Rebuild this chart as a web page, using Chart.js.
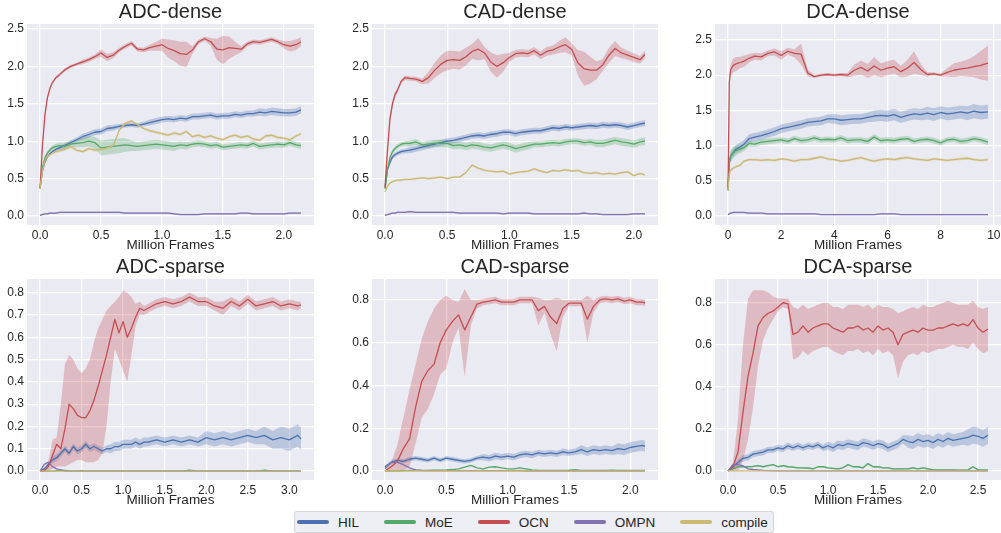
<!DOCTYPE html>
<html>
<head>
<meta charset="utf-8">
<script src="https://cdn.jsdelivr.net/npm/chart.js@4.4.1/dist/chart.umd.min.js"></script>
<style>
  body { margin: 0; background: #fff; width: 1001px; height: 533px; position: relative; overflow: hidden; }
  canvas { position: absolute; }
  #legend { position: absolute; left: 294px; top: 511px; width: 480px; height: 22px; box-sizing: border-box;
    border: 1px solid #d6d6d6; border-radius: 3px; background: #eeeef5; display: flex; align-items: center;
    padding-left: 2px; font: 13.5px "Liberation Sans", Arial, sans-serif; color: #262626; }
  #legend .item { display: flex; align-items: center; margin-right: 25px; }
  #legend .swatch { width: 32px; height: 4px; border-radius: 2px; margin-right: 9px; }
</style>
</head>
<body>
<canvas id="c0" width="330" height="255" style="left:0;top:0"></canvas>
<canvas id="c1" width="330" height="255" style="left:340px;top:0"></canvas>
<canvas id="c2" width="321" height="255" style="left:680px;top:0"></canvas>
<canvas id="c3" width="330" height="255" style="left:0;top:255px"></canvas>
<canvas id="c4" width="330" height="255" style="left:340px;top:255px"></canvas>
<canvas id="c5" width="321" height="255" style="left:680px;top:255px"></canvas>
<div id="legend"></div>
<script>
// métodos y colores
var methods = ['HIL', 'MoE', 'OCN', 'OMPN', 'compile'];
var colors = ['#4C72B0', '#55A868', '#C44E52', '#8172B2', '#CCB974'];

// ticks
var denseYTicks = [0, 0.5, 1, 1.5, 2, 2.5];
var adcSparseYTicks = [0, 0.1, 0.2, 0.3, 0.4, 0.5, 0.6, 0.7, 0.8];
var sparseYTicks = [0, 0.2, 0.4, 0.6, 0.8];
var xTicks2 = [0, 0.5, 1, 1.5, 2];
var xTicksDca = [0, 2, 4, 6, 8, 10];
var xTicks3 = [0, 0.5, 1, 1.5, 2, 2.5, 3];
var xTicks25 = [0, 0.5, 1, 1.5, 2, 2.5];

// ---------- ADC-dense ----------
var adcDenseFrames = [0, 0.02, 0.04, 0.06, 0.08, 0.1, 0.13, 0.16, 0.2, 0.25, 0.3, 0.35, 0.4, 0.45, 0.5, 0.55, 0.6, 0.65, 0.7, 0.75, 0.8, 0.85, 0.9, 0.95, 1, 1.05, 1.1, 1.15, 1.2, 1.25, 1.3, 1.35, 1.4, 1.45, 1.5, 1.55, 1.6, 1.65, 1.7, 1.75, 1.8, 1.85, 1.9, 1.95, 2, 2.05, 2.1, 2.14];
var adcDenseHIL = [0.37, 0.60, 0.72, 0.79, 0.83, 0.86, 0.89, 0.91, 0.94, 0.98, 1.02, 1.06, 1.09, 1.12, 1.13, 1.17, 1.18, 1.20, 1.21, 1.22, 1.21, 1.23, 1.25, 1.27, 1.29, 1.30, 1.29, 1.31, 1.30, 1.33, 1.33, 1.34, 1.35, 1.33, 1.34, 1.34, 1.36, 1.35, 1.37, 1.37, 1.39, 1.38, 1.40, 1.39, 1.38, 1.38, 1.39, 1.42];
var adcDenseHILsd = [0.01, 0.02, 0.02, 0.02, 0.02, 0.02, 0.02, 0.03, 0.03, 0.03, 0.03, 0.04, 0.04, 0.04, 0.04, 0.04, 0.04, 0.03, 0.03, 0.03, 0.03, 0.03, 0.04, 0.04, 0.04, 0.04, 0.04, 0.04, 0.04, 0.04, 0.04, 0.04, 0.04, 0.04, 0.04, 0.04, 0.04, 0.04, 0.04, 0.04, 0.05, 0.05, 0.05, 0.05, 0.05, 0.05, 0.05, 0.05];
var adcDenseMoE = [0.37, 0.65, 0.78, 0.84, 0.88, 0.91, 0.93, 0.94, 0.93, 0.96, 0.97, 0.98, 1.00, 0.98, 0.91, 0.92, 0.93, 0.94, 0.95, 0.94, 0.93, 0.94, 0.95, 0.96, 0.95, 0.94, 0.93, 0.95, 0.94, 0.96, 0.97, 0.96, 0.94, 0.95, 0.92, 0.93, 0.94, 0.95, 0.94, 0.97, 0.93, 0.94, 0.95, 0.96, 0.95, 0.98, 0.95, 0.94];
var adcDenseMoEsd = [0.01, 0.02, 0.03, 0.03, 0.03, 0.03, 0.04, 0.04, 0.05, 0.05, 0.05, 0.06, 0.07, 0.08, 0.10, 0.10, 0.10, 0.10, 0.09, 0.07, 0.06, 0.06, 0.06, 0.06, 0.06, 0.06, 0.06, 0.05, 0.05, 0.04, 0.04, 0.04, 0.04, 0.04, 0.04, 0.04, 0.04, 0.04, 0.04, 0.04, 0.04, 0.04, 0.04, 0.04, 0.04, 0.04, 0.04, 0.04];
var adcDenseOCN = [0.37, 0.95, 1.35, 1.58, 1.70, 1.78, 1.85, 1.89, 1.95, 2.00, 2.03, 2.06, 2.09, 2.13, 2.18, 2.12, 2.15, 2.22, 2.27, 2.31, 2.23, 2.22, 2.25, 2.27, 2.29, 2.24, 2.21, 2.17, 2.16, 2.22, 2.33, 2.37, 2.33, 2.23, 2.22, 2.25, 2.24, 2.23, 2.30, 2.33, 2.32, 2.34, 2.36, 2.33, 2.29, 2.27, 2.29, 2.33];
var adcDenseOCNsd = [0.01, 0.02, 0.03, 0.03, 0.02, 0.02, 0.02, 0.02, 0.02, 0.02, 0.02, 0.03, 0.03, 0.03, 0.05, 0.05, 0.04, 0.03, 0.03, 0.03, 0.03, 0.03, 0.04, 0.06, 0.08, 0.12, 0.14, 0.16, 0.17, 0.05, 0.03, 0.03, 0.05, 0.14, 0.19, 0.15, 0.09, 0.04, 0.03, 0.03, 0.03, 0.03, 0.03, 0.03, 0.05, 0.07, 0.07, 0.06];
var adcDenseOMPN = [0.01, 0.02, 0.03, 0.03, 0.04, 0.04, 0.04, 0.05, 0.05, 0.05, 0.05, 0.05, 0.05, 0.05, 0.05, 0.05, 0.05, 0.05, 0.04, 0.04, 0.04, 0.04, 0.04, 0.04, 0.04, 0.04, 0.03, 0.02, 0.02, 0.02, 0.02, 0.03, 0.03, 0.03, 0.03, 0.03, 0.03, 0.04, 0.04, 0.03, 0.03, 0.03, 0.03, 0.03, 0.03, 0.04, 0.04, 0.04];
var adcDenseOMPNsd = [0.01, 0.01, 0.01, 0.01, 0.01, 0.01, 0.01, 0.01, 0.01, 0.01, 0.01, 0.01, 0.01, 0.01, 0.01, 0.01, 0.01, 0.01, 0.01, 0.01, 0.01, 0.01, 0.01, 0.01, 0.01, 0.01, 0.01, 0.01, 0.01, 0.01, 0.01, 0.01, 0.01, 0.01, 0.01, 0.01, 0.01, 0.01, 0.01, 0.01, 0.01, 0.01, 0.01, 0.01, 0.01, 0.01, 0.01, 0.01];
var adcDenseCompile = [0.37, 0.60, 0.74, 0.79, 0.82, 0.84, 0.86, 0.87, 0.89, 0.93, 0.88, 0.86, 0.90, 0.88, 0.89, 0.91, 0.94, 1.15, 1.24, 1.27, 1.22, 1.17, 1.14, 1.12, 1.10, 1.08, 1.11, 1.09, 1.13, 1.06, 1.08, 1.05, 1.07, 1.04, 1.02, 1.06, 1.08, 1.05, 1.07, 1.03, 1.01, 1.07, 1.08, 1.05, 1.04, 1.02, 1.07, 1.10];
var adcDenseCompileSd = [0.01, 0.02, 0.02, 0.02, 0.02, 0.02, 0.02, 0.02, 0.02, 0.02, 0.02, 0.02, 0.02, 0.02, 0.02, 0.02, 0.02, 0.02, 0.02, 0.02, 0.02, 0.02, 0.02, 0.02, 0.02, 0.02, 0.02, 0.02, 0.02, 0.02, 0.02, 0.02, 0.02, 0.02, 0.02, 0.02, 0.02, 0.02, 0.02, 0.02, 0.02, 0.02, 0.02, 0.02, 0.02, 0.02, 0.02, 0.02];

// ---------- CAD-dense ----------
var cadDenseFrames = [0, 0.02, 0.04, 0.06, 0.08, 0.1, 0.13, 0.16, 0.2, 0.25, 0.3, 0.35, 0.4, 0.45, 0.5, 0.55, 0.6, 0.65, 0.7, 0.75, 0.8, 0.85, 0.9, 0.95, 1, 1.05, 1.1, 1.15, 1.2, 1.25, 1.3, 1.35, 1.4, 1.45, 1.5, 1.55, 1.6, 1.65, 1.7, 1.75, 1.8, 1.85, 1.9, 1.95, 2, 2.05, 2.09];
var cadDenseHIL = [0.38, 0.62, 0.72, 0.79, 0.82, 0.84, 0.86, 0.87, 0.88, 0.90, 0.92, 0.94, 0.96, 0.98, 1.00, 1.01, 1.03, 1.05, 1.07, 1.08, 1.07, 1.09, 1.10, 1.12, 1.12, 1.10, 1.12, 1.13, 1.14, 1.14, 1.16, 1.18, 1.17, 1.19, 1.18, 1.19, 1.20, 1.21, 1.20, 1.22, 1.21, 1.22, 1.21, 1.19, 1.21, 1.23, 1.24];
var cadDenseHILsd = [0.01, 0.02, 0.03, 0.03, 0.03, 0.03, 0.03, 0.03, 0.04, 0.04, 0.04, 0.04, 0.04, 0.04, 0.04, 0.04, 0.04, 0.04, 0.04, 0.04, 0.04, 0.04, 0.04, 0.04, 0.04, 0.04, 0.04, 0.04, 0.04, 0.04, 0.04, 0.04, 0.04, 0.04, 0.04, 0.04, 0.04, 0.04, 0.04, 0.04, 0.04, 0.04, 0.04, 0.04, 0.04, 0.04, 0.04];
var cadDenseMoE = [0.36, 0.62, 0.78, 0.86, 0.90, 0.93, 0.96, 0.97, 0.97, 0.99, 0.95, 0.96, 0.97, 0.97, 0.97, 0.94, 0.95, 0.93, 0.95, 0.94, 0.92, 0.91, 0.93, 0.95, 0.93, 0.90, 0.92, 0.94, 0.96, 0.96, 0.97, 0.98, 0.97, 0.99, 1.00, 1.00, 0.98, 0.99, 0.97, 0.97, 0.99, 1.01, 0.99, 0.98, 0.96, 0.99, 1.00];
var cadDenseMoEsd = [0.01, 0.02, 0.03, 0.03, 0.03, 0.03, 0.03, 0.03, 0.04, 0.04, 0.04, 0.05, 0.05, 0.05, 0.05, 0.05, 0.05, 0.05, 0.05, 0.05, 0.05, 0.05, 0.05, 0.05, 0.05, 0.05, 0.05, 0.05, 0.04, 0.04, 0.04, 0.04, 0.04, 0.04, 0.04, 0.04, 0.04, 0.04, 0.05, 0.05, 0.05, 0.05, 0.05, 0.05, 0.05, 0.05, 0.05];
var cadDenseOCN = [0.39, 0.88, 1.30, 1.50, 1.62, 1.68, 1.80, 1.85, 1.84, 1.83, 1.80, 1.85, 1.95, 2.03, 2.08, 2.09, 2.08, 2.13, 2.20, 2.23, 2.18, 2.06, 2.00, 2.05, 2.12, 2.17, 2.18, 2.17, 2.21, 2.15, 2.20, 2.22, 2.26, 2.29, 2.23, 2.05, 1.97, 1.95, 1.95, 2.02, 2.15, 2.24, 2.18, 2.15, 2.12, 2.09, 2.16];
var cadDenseOCNsd = [0.01, 0.02, 0.04, 0.05, 0.04, 0.03, 0.03, 0.03, 0.03, 0.03, 0.04, 0.08, 0.10, 0.12, 0.13, 0.12, 0.12, 0.12, 0.10, 0.15, 0.08, 0.13, 0.15, 0.12, 0.06, 0.05, 0.05, 0.05, 0.05, 0.05, 0.06, 0.06, 0.08, 0.10, 0.08, 0.17, 0.23, 0.18, 0.12, 0.08, 0.10, 0.10, 0.07, 0.06, 0.06, 0.05, 0.05];
var cadDenseOMPN = [0.01, 0.02, 0.03, 0.04, 0.04, 0.05, 0.05, 0.05, 0.06, 0.05, 0.05, 0.05, 0.05, 0.05, 0.05, 0.05, 0.04, 0.04, 0.04, 0.04, 0.04, 0.04, 0.04, 0.03, 0.04, 0.04, 0.04, 0.04, 0.03, 0.03, 0.03, 0.03, 0.03, 0.03, 0.03, 0.03, 0.04, 0.03, 0.03, 0.02, 0.02, 0.02, 0.02, 0.02, 0.03, 0.03, 0.03];
var cadDenseOMPNsd = [0.01, 0.01, 0.01, 0.01, 0.01, 0.01, 0.01, 0.01, 0.01, 0.01, 0.01, 0.01, 0.01, 0.01, 0.01, 0.01, 0.01, 0.01, 0.01, 0.01, 0.01, 0.01, 0.01, 0.01, 0.01, 0.01, 0.01, 0.01, 0.01, 0.01, 0.01, 0.01, 0.01, 0.01, 0.01, 0.01, 0.01, 0.01, 0.01, 0.01, 0.01, 0.01, 0.01, 0.01, 0.01, 0.01, 0.01];
var cadDenseCompile = [0.32, 0.40, 0.44, 0.46, 0.47, 0.48, 0.48, 0.49, 0.49, 0.50, 0.51, 0.50, 0.51, 0.52, 0.50, 0.52, 0.52, 0.58, 0.68, 0.64, 0.61, 0.60, 0.59, 0.60, 0.56, 0.58, 0.59, 0.60, 0.63, 0.60, 0.58, 0.61, 0.60, 0.62, 0.60, 0.61, 0.58, 0.57, 0.58, 0.56, 0.57, 0.56, 0.58, 0.59, 0.54, 0.57, 0.55];
var cadDenseCompileSd = [0.01, 0.015, 0.015, 0.015, 0.015, 0.015, 0.015, 0.015, 0.015, 0.015, 0.015, 0.015, 0.015, 0.015, 0.015, 0.015, 0.015, 0.015, 0.015, 0.015, 0.015, 0.015, 0.015, 0.015, 0.015, 0.015, 0.015, 0.015, 0.015, 0.015, 0.015, 0.015, 0.015, 0.015, 0.015, 0.015, 0.015, 0.015, 0.015, 0.015, 0.015, 0.015, 0.015, 0.015, 0.015, 0.015, 0.015];

// ---------- DCA-dense ----------
var dcaDenseFrames = [0, 0.05, 0.1, 0.2, 0.3, 0.45, 0.6, 0.8, 1, 1.25, 1.5, 1.75, 2, 2.25, 2.5, 2.75, 3, 3.25, 3.5, 3.75, 4, 4.25, 4.5, 4.75, 5, 5.25, 5.5, 5.75, 6, 6.25, 6.5, 6.75, 7, 7.25, 7.5, 7.75, 8, 8.25, 8.5, 8.75, 9, 9.25, 9.5, 9.78];
var dcaDenseHIL = [0.38, 0.75, 0.85, 0.90, 0.95, 0.98, 1.02, 1.10, 1.12, 1.14, 1.17, 1.20, 1.24, 1.26, 1.28, 1.30, 1.33, 1.34, 1.35, 1.38, 1.38, 1.36, 1.37, 1.38, 1.38, 1.40, 1.42, 1.43, 1.42, 1.44, 1.40, 1.43, 1.45, 1.44, 1.46, 1.44, 1.47, 1.45, 1.46, 1.48, 1.46, 1.49, 1.47, 1.48];
var dcaDenseHILsd = [0.02, 0.05, 0.06, 0.06, 0.06, 0.06, 0.06, 0.06, 0.06, 0.06, 0.06, 0.06, 0.06, 0.06, 0.06, 0.06, 0.06, 0.06, 0.06, 0.06, 0.07, 0.07, 0.07, 0.07, 0.07, 0.07, 0.08, 0.08, 0.08, 0.08, 0.08, 0.08, 0.08, 0.08, 0.09, 0.09, 0.09, 0.09, 0.09, 0.09, 0.10, 0.10, 0.10, 0.10];
var dcaDenseMoE = [0.36, 0.78, 0.85, 0.90, 0.93, 0.95, 0.97, 1.03, 1.02, 1.05, 1.06, 1.07, 1.08, 1.06, 1.10, 1.07, 1.08, 1.11, 1.08, 1.09, 1.08, 1.11, 1.07, 1.08, 1.08, 1.06, 1.12, 1.07, 1.08, 1.07, 1.09, 1.10, 1.06, 1.08, 1.09, 1.07, 1.04, 1.08, 1.09, 1.06, 1.07, 1.10, 1.08, 1.05];
var dcaDenseMoEsd = [0.02, 0.06, 0.08, 0.08, 0.07, 0.06, 0.05, 0.04, 0.04, 0.04, 0.04, 0.04, 0.04, 0.04, 0.04, 0.04, 0.04, 0.04, 0.04, 0.04, 0.04, 0.04, 0.04, 0.04, 0.04, 0.04, 0.04, 0.04, 0.04, 0.04, 0.04, 0.04, 0.04, 0.04, 0.04, 0.04, 0.04, 0.04, 0.04, 0.04, 0.04, 0.04, 0.04, 0.04];
var dcaDenseOCN = [0.40, 1.90, 2.08, 2.14, 2.16, 2.18, 2.20, 2.24, 2.27, 2.26, 2.31, 2.33, 2.28, 2.34, 2.31, 2.30, 2.03, 1.98, 2.00, 2.01, 2.00, 2.01, 2.00, 2.07, 2.11, 2.06, 2.13, 2.07, 2.10, 2.12, 2.05, 2.10, 2.18, 2.08, 2.01, 2.02, 2.00, 2.04, 2.07, 2.09, 2.10, 2.12, 2.14, 2.17];
var dcaDenseOCNsd = [0.02, 0.05, 0.08, 0.10, 0.10, 0.08, 0.08, 0.06, 0.05, 0.05, 0.04, 0.05, 0.06, 0.05, 0.06, 0.15, 0.05, 0.02, 0.02, 0.02, 0.02, 0.02, 0.03, 0.08, 0.10, 0.10, 0.13, 0.10, 0.10, 0.10, 0.08, 0.12, 0.16, 0.08, 0.03, 0.02, 0.02, 0.06, 0.10, 0.10, 0.12, 0.15, 0.20, 0.25];
var dcaDenseOMPN = [0.02, 0.03, 0.04, 0.05, 0.05, 0.05, 0.05, 0.04, 0.04, 0.04, 0.03, 0.03, 0.03, 0.03, 0.03, 0.03, 0.03, 0.03, 0.02, 0.02, 0.02, 0.02, 0.02, 0.02, 0.02, 0.02, 0.02, 0.03, 0.03, 0.03, 0.02, 0.02, 0.02, 0.02, 0.02, 0.02, 0.02, 0.02, 0.02, 0.02, 0.02, 0.02, 0.02, 0.02];
var dcaDenseOMPNsd = [0.01, 0.01, 0.01, 0.01, 0.01, 0.01, 0.01, 0.01, 0.01, 0.01, 0.01, 0.01, 0.01, 0.01, 0.01, 0.01, 0.01, 0.01, 0.01, 0.01, 0.01, 0.01, 0.01, 0.01, 0.01, 0.01, 0.01, 0.01, 0.01, 0.01, 0.01, 0.01, 0.01, 0.01, 0.01, 0.01, 0.01, 0.01, 0.01, 0.01, 0.01, 0.01, 0.01, 0.01];
var dcaDenseCompile = [0.36, 0.60, 0.65, 0.68, 0.70, 0.72, 0.78, 0.80, 0.80, 0.79, 0.80, 0.79, 0.81, 0.80, 0.78, 0.80, 0.80, 0.82, 0.84, 0.81, 0.80, 0.78, 0.79, 0.81, 0.83, 0.80, 0.78, 0.80, 0.81, 0.80, 0.82, 0.83, 0.81, 0.80, 0.79, 0.81, 0.80, 0.79, 0.80, 0.81, 0.82, 0.80, 0.79, 0.80];
var dcaDenseCompileSd = [0.02, 0.02, 0.02, 0.02, 0.02, 0.02, 0.02, 0.02, 0.02, 0.02, 0.02, 0.02, 0.02, 0.02, 0.02, 0.02, 0.02, 0.02, 0.02, 0.02, 0.02, 0.02, 0.02, 0.02, 0.02, 0.02, 0.02, 0.02, 0.02, 0.02, 0.02, 0.02, 0.02, 0.02, 0.02, 0.02, 0.02, 0.02, 0.02, 0.02, 0.02, 0.02, 0.02, 0.02];

// ---------- ADC-sparse ----------
var adcSparseFrames = [0, 0.05, 0.1, 0.15, 0.2, 0.25, 0.3, 0.35, 0.4, 0.45, 0.5, 0.55, 0.6, 0.65, 0.7, 0.75, 0.8, 0.85, 0.9, 0.95, 1, 1.05, 1.1, 1.15, 1.2, 1.25, 1.3, 1.4, 1.5, 1.6, 1.7, 1.8, 1.9, 2, 2.1, 2.2, 2.3, 2.4, 2.5, 2.6, 2.7, 2.8, 2.9, 3, 3.1, 3.14];
var adcSparseHIL = [0, 0.01, 0.03, 0.05, 0.06, 0.08, 0.10, 0.08, 0.11, 0.09, 0.10, 0.12, 0.10, 0.11, 0.10, 0.09, 0.10, 0.10, 0.11, 0.11, 0.12, 0.12, 0.12, 0.13, 0.12, 0.13, 0.13, 0.14, 0.13, 0.14, 0.13, 0.14, 0.13, 0.15, 0.14, 0.15, 0.14, 0.15, 0.16, 0.15, 0.16, 0.14, 0.15, 0.14, 0.16, 0.145];
var adcSparseHILsd = [0, 0.005, 0.01, 0.015, 0.015, 0.015, 0.015, 0.015, 0.015, 0.015, 0.015, 0.015, 0.015, 0.015, 0.015, 0.015, 0.015, 0.02, 0.02, 0.02, 0.02, 0.02, 0.02, 0.02, 0.02, 0.02, 0.02, 0.02, 0.02, 0.02, 0.02, 0.02, 0.02, 0.03, 0.03, 0.03, 0.03, 0.03, 0.03, 0.03, 0.04, 0.04, 0.05, 0.05, 0.05, 0.05];
var adcSparseMoE = [0, 0, 0, 0, 0.002, 0.004, 0.003, 0.001, 0, 0, 0.002, 0, 0, 0, 0, 0, 0, 0, 0, 0, 0, 0, 0, 0, 0, 0, 0, 0, 0, 0, 0, 0.004, 0, 0, 0, 0, 0, 0, 0, 0, 0.004, 0, 0, 0, 0, 0];
var adcSparseOCN = [0, 0, 0.02, 0.07, 0.12, 0.10, 0.19, 0.30, 0.28, 0.25, 0.24, 0.24, 0.27, 0.32, 0.38, 0.45, 0.52, 0.60, 0.68, 0.62, 0.67, 0.60, 0.64, 0.69, 0.73, 0.72, 0.73, 0.75, 0.76, 0.75, 0.76, 0.78, 0.76, 0.76, 0.74, 0.73, 0.76, 0.74, 0.77, 0.74, 0.75, 0.76, 0.74, 0.75, 0.74, 0.745];
var adcSparseOCNlo = [0, 0, 0, 0.01, 0.02, 0.02, 0.02, 0.03, 0.04, 0.05, 0.05, 0.04, 0.04, 0.04, 0.05, 0.08, 0.20, 0.40, 0.55, 0.50, 0.45, 0.40, 0.52, 0.65, 0.70, 0.70, 0.71, 0.73, 0.74, 0.73, 0.74, 0.76, 0.74, 0.74, 0.72, 0.70, 0.74, 0.72, 0.75, 0.72, 0.73, 0.74, 0.72, 0.73, 0.72, 0.73];
var adcSparseOCNhi = [0, 0.01, 0.04, 0.14, 0.15, 0.30, 0.48, 0.52, 0.50, 0.46, 0.44, 0.46, 0.50, 0.58, 0.64, 0.68, 0.72, 0.74, 0.76, 0.78, 0.81, 0.80, 0.78, 0.75, 0.76, 0.74, 0.75, 0.77, 0.78, 0.77, 0.78, 0.80, 0.78, 0.78, 0.76, 0.76, 0.78, 0.76, 0.79, 0.76, 0.77, 0.78, 0.76, 0.77, 0.76, 0.76];
var adcSparseOMPN = [0, 0.03, 0.04, 0.02, 0.01, 0.005, 0, 0, 0, 0, 0, 0, 0, 0, 0, 0, 0, 0, 0, 0, 0, 0, 0, 0, 0, 0, 0, 0, 0, 0, 0, 0, 0, 0, 0, 0, 0, 0, 0, 0, 0, 0, 0, 0, 0, 0];
var adcSparseCompile = [0, 0, 0, 0, 0, 0, 0, 0, 0, 0, 0, 0, 0, 0, 0, 0, 0, 0, 0, 0, 0, 0, 0, 0, 0, 0, 0, 0, 0, 0, 0, 0, 0, 0, 0, 0, 0, 0, 0, 0, 0, 0, 0, 0, 0, 0];

// ---------- CAD-sparse ----------
var cadSparseFrames = [0, 0.05, 0.1, 0.15, 0.2, 0.25, 0.3, 0.35, 0.4, 0.45, 0.5, 0.55, 0.6, 0.65, 0.7, 0.75, 0.8, 0.85, 0.9, 0.95, 1, 1.05, 1.1, 1.15, 1.2, 1.25, 1.3, 1.35, 1.4, 1.45, 1.5, 1.55, 1.6, 1.65, 1.7, 1.75, 1.8, 1.85, 1.9, 1.95, 2, 2.05, 2.1, 2.12];
var cadSparseHIL = [0.02, 0.04, 0.05, 0.045, 0.055, 0.06, 0.055, 0.05, 0.06, 0.05, 0.06, 0.055, 0.05, 0.045, 0.05, 0.06, 0.065, 0.06, 0.07, 0.065, 0.07, 0.065, 0.075, 0.08, 0.075, 0.085, 0.08, 0.085, 0.08, 0.09, 0.085, 0.09, 0.10, 0.09, 0.10, 0.095, 0.10, 0.095, 0.105, 0.10, 0.11, 0.115, 0.12, 0.115];
var cadSparseHILsd = [0.005, 0.01, 0.01, 0.01, 0.01, 0.01, 0.01, 0.01, 0.01, 0.01, 0.01, 0.01, 0.01, 0.01, 0.01, 0.01, 0.015, 0.015, 0.015, 0.015, 0.015, 0.015, 0.015, 0.015, 0.015, 0.015, 0.015, 0.015, 0.015, 0.015, 0.015, 0.015, 0.02, 0.02, 0.02, 0.02, 0.02, 0.02, 0.025, 0.025, 0.025, 0.025, 0.025, 0.025];
var cadSparseMoE = [0, 0, 0, 0.002, 0.003, 0.003, 0.003, 0.003, 0.004, 0.004, 0.005, 0.007, 0.01, 0.018, 0.026, 0.015, 0.01, 0.018, 0.02, 0.015, 0.01, 0.01, 0.015, 0.01, 0.005, 0.003, 0.003, 0.003, 0.003, 0.003, 0.004, 0.006, 0.003, 0.003, 0.003, 0.003, 0.003, 0.004, 0.003, 0.003, 0.003, 0.003, 0.003, 0.003];
var cadSparseOCN = [0, 0.02, 0.045, 0.105, 0.15, 0.30, 0.42, 0.47, 0.50, 0.60, 0.66, 0.70, 0.73, 0.66, 0.72, 0.78, 0.79, 0.795, 0.80, 0.79, 0.79, 0.79, 0.80, 0.80, 0.80, 0.75, 0.77, 0.72, 0.69, 0.76, 0.785, 0.785, 0.785, 0.71, 0.77, 0.80, 0.805, 0.80, 0.805, 0.795, 0.80, 0.79, 0.79, 0.785];
var cadSparseOCNlo = [0, 0, 0, 0, 0.02, 0.13, 0.25, 0.29, 0.36, 0.45, 0.48, 0.60, 0.67, 0.44, 0.68, 0.76, 0.775, 0.78, 0.785, 0.775, 0.775, 0.775, 0.785, 0.785, 0.785, 0.68, 0.74, 0.64, 0.56, 0.72, 0.77, 0.77, 0.77, 0.60, 0.74, 0.785, 0.79, 0.785, 0.79, 0.78, 0.785, 0.775, 0.775, 0.77];
var cadSparseOCNhi = [0, 0.04, 0.12, 0.25, 0.38, 0.50, 0.62, 0.70, 0.76, 0.80, 0.82, 0.80, 0.79, 0.85, 0.80, 0.80, 0.805, 0.81, 0.815, 0.805, 0.805, 0.805, 0.815, 0.815, 0.815, 0.81, 0.80, 0.80, 0.81, 0.80, 0.80, 0.80, 0.80, 0.82, 0.80, 0.815, 0.82, 0.815, 0.82, 0.81, 0.815, 0.805, 0.805, 0.80];
var cadSparseOMPN = [0.01, 0.04, 0.04, 0.03, 0.015, 0.005, 0.003, 0.002, 0.002, 0.002, 0.002, 0.002, 0.002, 0.002, 0.002, 0.002, 0.002, 0.002, 0.002, 0.002, 0.002, 0.002, 0.002, 0, 0, 0, 0, 0, 0, 0, 0, 0, 0, 0, 0, 0, 0, 0, 0, 0, 0, 0, 0, 0];
var cadSparseCompile = [0, 0, 0, 0, 0, 0, 0, 0, 0, 0, 0, 0, 0, 0, 0, 0, 0, 0, 0, 0, 0, 0, 0, 0, 0, 0, 0, 0, 0, 0, 0, 0, 0, 0, 0, 0, 0, 0, 0, 0, 0, 0, 0, 0];

// ---------- DCA-sparse ----------
var dcaSparseFrames = [0, 0.05, 0.1, 0.15, 0.2, 0.25, 0.3, 0.35, 0.4, 0.45, 0.5, 0.55, 0.6, 0.65, 0.7, 0.75, 0.8, 0.85, 0.9, 0.95, 1, 1.05, 1.1, 1.15, 1.2, 1.25, 1.3, 1.35, 1.4, 1.45, 1.5, 1.55, 1.6, 1.65, 1.7, 1.75, 1.8, 1.85, 1.9, 1.95, 2, 2.05, 2.1, 2.15, 2.2, 2.25, 2.3, 2.35, 2.4, 2.45, 2.5, 2.55, 2.6];
var dcaSparseHIL = [0, 0.02, 0.04, 0.06, 0.065, 0.08, 0.085, 0.09, 0.10, 0.10, 0.11, 0.105, 0.12, 0.11, 0.12, 0.11, 0.12, 0.115, 0.125, 0.11, 0.12, 0.11, 0.125, 0.12, 0.13, 0.125, 0.12, 0.135, 0.13, 0.12, 0.13, 0.125, 0.11, 0.12, 0.13, 0.15, 0.14, 0.135, 0.15, 0.14, 0.145, 0.135, 0.15, 0.14, 0.155, 0.145, 0.15, 0.155, 0.16, 0.17, 0.165, 0.155, 0.17];
var dcaSparseHILsd = [0, 0.01, 0.015, 0.015, 0.015, 0.015, 0.015, 0.015, 0.015, 0.015, 0.015, 0.015, 0.015, 0.015, 0.015, 0.015, 0.015, 0.015, 0.015, 0.015, 0.02, 0.02, 0.02, 0.02, 0.02, 0.02, 0.02, 0.02, 0.02, 0.02, 0.02, 0.02, 0.02, 0.02, 0.02, 0.02, 0.03, 0.03, 0.03, 0.03, 0.03, 0.03, 0.03, 0.03, 0.03, 0.03, 0.03, 0.03, 0.04, 0.04, 0.04, 0.04, 0.04];
var dcaSparseMoE = [0, 0.01, 0.02, 0.02, 0.02, 0.022, 0.025, 0.02, 0.025, 0.03, 0.02, 0.025, 0.02, 0.018, 0.015, 0.015, 0.014, 0.01, 0.02, 0.02, 0.015, 0.012, 0.01, 0.015, 0.03, 0.02, 0.02, 0.015, 0.035, 0.02, 0.02, 0.015, 0.015, 0.01, 0.01, 0.01, 0.01, 0.015, 0.01, 0.015, 0.01, 0.005, 0.005, 0.005, 0.005, 0.005, 0.004, 0.004, 0.005, 0.02, 0.005, 0.005, 0.004];
var dcaSparseMoEsd = [0, 0.004, 0.004, 0.004, 0.004, 0.004, 0.004, 0.004, 0.004, 0.004, 0.004, 0.004, 0.004, 0.004, 0.004, 0.004, 0.004, 0.004, 0.004, 0.004, 0.004, 0.004, 0.004, 0.004, 0.004, 0.004, 0.004, 0.004, 0.004, 0.004, 0.004, 0.004, 0.004, 0.004, 0.004, 0.004, 0.004, 0.004, 0.004, 0.004, 0.004, 0.004, 0.004, 0.004, 0.004, 0.004, 0.004, 0.004, 0.004, 0.004, 0.004, 0.004, 0.004];
var dcaSparseOCN = [0, 0.02, 0.09, 0.28, 0.45, 0.56, 0.69, 0.73, 0.75, 0.76, 0.78, 0.80, 0.795, 0.65, 0.66, 0.69, 0.66, 0.68, 0.69, 0.70, 0.70, 0.68, 0.67, 0.66, 0.68, 0.68, 0.69, 0.67, 0.68, 0.66, 0.69, 0.67, 0.68, 0.66, 0.60, 0.65, 0.66, 0.67, 0.66, 0.68, 0.67, 0.67, 0.68, 0.68, 0.69, 0.70, 0.69, 0.70, 0.69, 0.72, 0.68, 0.66, 0.675];
var dcaSparseOCNlo = [0, 0, 0, 0.05, 0.15, 0.30, 0.50, 0.62, 0.68, 0.72, 0.76, 0.78, 0.77, 0.53, 0.54, 0.57, 0.55, 0.57, 0.58, 0.59, 0.59, 0.57, 0.56, 0.55, 0.57, 0.57, 0.58, 0.56, 0.57, 0.55, 0.58, 0.56, 0.57, 0.55, 0.44, 0.52, 0.55, 0.56, 0.55, 0.57, 0.56, 0.57, 0.58, 0.58, 0.59, 0.60, 0.59, 0.59, 0.58, 0.61, 0.58, 0.56, 0.57];
var dcaSparseOCNhi = [0, 0.04, 0.25, 0.60, 0.82, 0.86, 0.86, 0.86, 0.85, 0.83, 0.82, 0.82, 0.82, 0.78, 0.77, 0.79, 0.77, 0.78, 0.79, 0.80, 0.80, 0.78, 0.78, 0.77, 0.79, 0.79, 0.79, 0.78, 0.79, 0.77, 0.79, 0.78, 0.78, 0.77, 0.75, 0.76, 0.77, 0.78, 0.77, 0.79, 0.78, 0.78, 0.79, 0.80, 0.81, 0.80, 0.79, 0.79, 0.79, 0.81, 0.78, 0.77, 0.78];
var dcaSparseOMPN = [0, 0.03, 0.03, 0.025, 0.01, 0.007, 0.005, 0.003, 0.002, 0.002, 0, 0, 0, 0, 0, 0, 0, 0, 0, 0, 0, 0, 0, 0, 0, 0, 0, 0, 0, 0, 0, 0, 0, 0, 0, 0, 0, 0, 0, 0, 0, 0, 0, 0, 0, 0, 0, 0, 0, 0, 0, 0, 0];
var dcaSparseCompile = [0, 0, 0, 0, 0, 0, 0, 0, 0, 0, 0, 0, 0, 0, 0, 0, 0, 0, 0, 0, 0, 0, 0, 0, 0, 0, 0, 0, 0, 0, 0, 0, 0, 0, 0, 0, 0, 0, 0, 0, 0, 0, 0, 0, 0, 0, 0, 0, 0, 0, 0, 0, 0];

var font = '"Liberation Sans", Arial, sans-serif';
var ink = '#262626';

// banda = media +- sd
function withSd(mean, sd) {
  return {
    mean: mean,
    lo: mean.map(function (v, i) { return v - sd[i]; }),
    hi: mean.map(function (v, i) { return v + sd[i]; })
  };
}
function withBand(mean, lo, hi) {
  return { mean: mean, lo: lo, hi: hi };
}

function pts(frames, arr) {
  return frames.map(function (x, i) { return { x: x, y: arr[i] }; });
}

function rgba(hex, a) {
  var n = parseInt(hex.slice(1), 16);
  return 'rgba(' + (n >> 16) + ',' + ((n >> 8) & 255) + ',' + (n & 255) + ',' + a + ')';
}

// fondo gris del área de dibujo
var bgPlugin = {
  id: 'bg',
  beforeDraw: function (chart) {
    var a = chart.chartArea;
    chart.ctx.save();
    chart.ctx.fillStyle = '#EAEAF2';
    chart.ctx.fillRect(a.left, a.top, a.right - a.left, a.bottom - a.top);
    chart.ctx.restore();
  }
};

function panel(id, title, frames, series, xTicks, yTicks, xr, yr, yWidth, padRight, xDec) {
  var datasets = [];
  // bandas primero (debajo de todas las líneas)
  series.forEach(function (s, i) {
    datasets.push({ data: pts(frames, s.hi), borderWidth: 0, borderColor: 'transparent', pointRadius: 0, fill: false, order: 40 - i });
    datasets.push({ data: pts(frames, s.lo), borderWidth: 0, borderColor: 'transparent', pointRadius: 0,
      fill: '-1', backgroundColor: rgba(colors[i], 0.3), order: 40 - i });
  });
  series.forEach(function (s, i) {
    datasets.push({ label: methods[i], data: pts(frames, s.mean), borderColor: colors[i], borderWidth: 1.3,
      pointRadius: 0, fill: false, borderJoinStyle: 'round', order: 10 - i });
  });

  new Chart(document.getElementById(id), {
    type: 'line',
    data: { datasets: datasets },
    plugins: [bgPlugin],
    options: {
      responsive: false,
      animation: false,
      layout: { padding: { left: 0, right: padRight, top: 0, bottom: 0 } },
      plugins: {
        legend: { display: false },
        tooltip: { enabled: false },
        title: { display: true, text: title, fullSize: false, color: ink,
          font: { family: font, size: 20, weight: 'normal' }, padding: { top: 0, bottom: 0 } }
      },
      scales: {
        x: {
          type: 'linear', min: xr[0], max: xr[1],
          afterBuildTicks: function (axis) { axis.ticks = xTicks.map(function (v) { return { value: v }; }); },
          afterFit: function (axis) { axis.height = 30; axis.paddingLeft = 0; axis.paddingRight = 0; },
          grid: { color: '#ffffff', lineWidth: 1.3, drawTicks: false },
          border: { display: false },
          ticks: { color: ink, font: { family: font, size: 12 }, padding: 3, maxRotation: 0, autoSkip: false,
            callback: function (v) { return v.toFixed(xDec); } },
          title: { display: true, text: 'Million Frames', color: ink, font: { family: font, size: 13.5 },
            padding: { top: 0, bottom: 2 } }
        },
        y: {
          min: yr[0], max: yr[1],
          afterBuildTicks: function (axis) { axis.ticks = yTicks.map(function (v) { return { value: v }; }); },
          afterFit: function (axis) { axis.width = yWidth; axis.paddingTop = 0; axis.paddingBottom = 0; },
          grid: { color: '#ffffff', lineWidth: 1.3, drawTicks: false },
          border: { display: false },
          ticks: { color: ink, font: { family: font, size: 12 }, padding: 3, autoSkip: false,
            callback: function (v) { return v.toFixed(1); } }
        }
      }
    }
  });
}

panel('c0', 'ADC-dense', adcDenseFrames, [
  withSd(adcDenseHIL, adcDenseHILsd),
  withSd(adcDenseMoE, adcDenseMoEsd),
  withSd(adcDenseOCN, adcDenseOCNsd),
  withSd(adcDenseOMPN, adcDenseOMPNsd),
  withSd(adcDenseCompile, adcDenseCompileSd)
], xTicks2, denseYTicks, [-0.107, 2.247], [-0.12, 2.567], 27, 16, 1);

panel('c1', 'CAD-dense', cadDenseFrames, [
  withSd(cadDenseHIL, cadDenseHILsd),
  withSd(cadDenseMoE, cadDenseMoEsd),
  withSd(cadDenseOCN, cadDenseOCNsd),
  withSd(cadDenseOMPN, cadDenseOMPNsd),
  withSd(cadDenseCompile, cadDenseCompileSd)
], xTicks2, denseYTicks, [-0.1045, 2.1945], [-0.12, 2.567], 32, 12, 1);

panel('c2', 'DCA-dense', dcaDenseFrames, [
  withSd(dcaDenseHIL, dcaDenseHILsd),
  withSd(dcaDenseMoE, dcaDenseMoEsd),
  withSd(dcaDenseOCN, dcaDenseOCNsd),
  withSd(dcaDenseOMPN, dcaDenseOMPNsd),
  withSd(dcaDenseCompile, dcaDenseCompileSd)
], xTicksDca, denseYTicks, [-0.489, 10.27], [-0.128, 2.727], 35, 0, 0);

panel('c3', 'ADC-sparse', adcSparseFrames, [
  withSd(adcSparseHIL, adcSparseHILsd),
  withBand(adcSparseMoE, adcSparseMoE, adcSparseMoE),
  withBand(adcSparseOCN, adcSparseOCNlo, adcSparseOCNhi),
  withBand(adcSparseOMPN, adcSparseOMPN, adcSparseOMPN),
  withBand(adcSparseCompile, adcSparseCompile, adcSparseCompile)
], xTicks3, adcSparseYTicks, [-0.157, 3.297], [-0.04, 0.861], 27, 16, 1);

panel('c4', 'CAD-sparse', cadSparseFrames, [
  withSd(cadSparseHIL, cadSparseHILsd),
  withBand(cadSparseMoE, cadSparseMoE, cadSparseMoE),
  withBand(cadSparseOCN, cadSparseOCNlo, cadSparseOCNhi),
  withBand(cadSparseOMPN, cadSparseOMPN, cadSparseOMPN),
  withBand(cadSparseCompile, cadSparseCompile, cadSparseCompile)
], xTicks2, sparseYTicks, [-0.106, 2.226], [-0.042, 0.898], 32, 12, 1);

panel('c5', 'DCA-sparse', dcaSparseFrames, [
  withSd(dcaSparseHIL, dcaSparseHILsd),
  withSd(dcaSparseMoE, dcaSparseMoEsd),
  withBand(dcaSparseOCN, dcaSparseOCNlo, dcaSparseOCNhi),
  withBand(dcaSparseOMPN, dcaSparseOMPN, dcaSparseOMPN),
  withBand(dcaSparseCompile, dcaSparseCompile, dcaSparseCompile)
], xTicks25, sparseYTicks, [-0.13, 2.73], [-0.043, 0.913], 35, 0, 1);

// leyenda común abajo
var legend = document.getElementById('legend');
methods.forEach(function (m, i) {
  var item = document.createElement('div');
  item.className = 'item';
  item.innerHTML = '<span class="swatch" style="background:' + colors[i] + '"></span><span>' + m + '</span>';
  legend.appendChild(item);
});
</script>
</body>
</html>
